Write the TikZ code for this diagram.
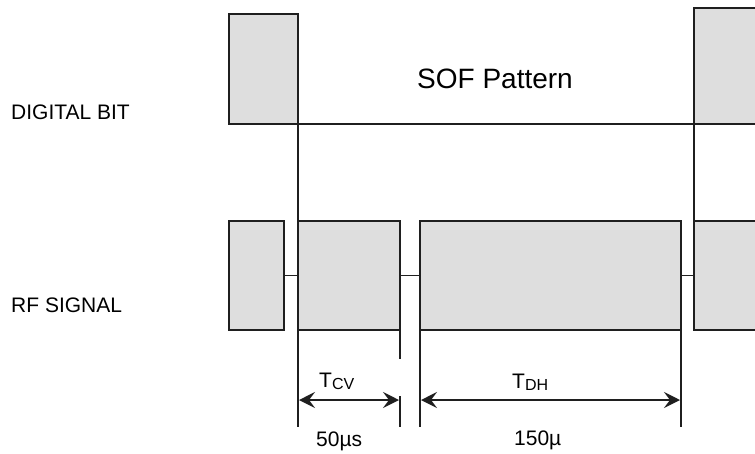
\documentclass[tikz,border=0pt]{standalone}
\usepackage{fontspec}
\setmainfont{Liberation Sans}
\usetikzlibrary{arrows.meta}
\begin{document}
\begin{tikzpicture}[x=1pt,y=-1pt,
  line join=miter,
  pulse/.style={draw=black!88, line width=1.8pt, fill=black!13, inner sep=0pt,
    outer sep=0pt, anchor=north west, minimum width=#1},
  wire/.style={draw=black!88, line width=1.8pt},
  dimline/.style={draw=black!88, line width=1.6pt,
    {Stealth[length=16pt,width=16pt,inset=6pt]}-{Stealth[length=16pt,width=16pt,inset=6pt]}},
  lbl/.style={inner sep=0pt, anchor=base west, font=\fontsize{21}{24}\selectfont},
  big/.style={inner sep=0pt, anchor=base west, font=\fontsize{28}{32}\selectfont}
]
\useasboundingbox (0,0) rectangle (755,453);
\clip (0,0) rectangle (755,453);

% digital bit waveform
\node[pulse=69pt, minimum height=110pt] (db1) at (229,14) {};
\node[pulse=76pt, minimum height=116pt] (db2) at (694,8) {};

% RF signal bursts
\node[pulse=55pt,  minimum height=109pt] (rf1) at (229,221) {};
\node[pulse=102pt, minimum height=109pt] (rf2) at (298,221) {};
\node[pulse=261pt, minimum height=109pt] (rf3) at (420,221) {};
\node[pulse=76pt,  minimum height=109pt] (rf4) at (694,221) {};

% low level of the digital bit and its edges carried down
\draw[wire] (db1.south east) -- (db2.south west);
\draw[wire] (db1.south east) -- (rf2.north west);
\draw[wire] (db2.south west) -- (rf4.north west);

% carrier-off gaps between bursts
\draw[wire] (rf1.east) -- (rf2.west);
\draw[wire] (rf2.east) -- (rf3.west);
\draw[wire] (rf3.east) -- (rf4.west);

% extension lines for the timing marks
\coordinate (e1) at (298,427);
\coordinate (g1) at (400,359);
\coordinate (g2) at (400,396);
\coordinate (e2) at (400,427);
\coordinate (e3) at (420,427);
\coordinate (e4) at (681,427);
\draw[wire] (rf2.south west) -- (e1);
\draw[wire] (rf2.south east) -- (g1);
\draw[wire] (g2) -- (e2);
\draw[wire] (rf3.south west) -- (e3);
\draw[wire] (rf3.south east) -- (e4);

% dimension arrows
\coordinate (a1) at (299,400);
\coordinate (a2) at (399,400);
\coordinate (a3) at (421,400);
\coordinate (a4) at (680,400);
\draw[dimline] (a1) -- (a2);
\draw[dimline] (a3) -- (a4);

% labels
\node[lbl] (digital) at (11,119) {DIGITAL BIT};
\node[lbl] (rfsig) at (11,312) {RF SIGNAL};
\node[big] (sof) at (417,88) {SOF Pattern};
\node[lbl] (tcv) at (319,387) {T\lower2pt\hbox{\fontsize{16}{16}\selectfont CV}};
\node[lbl] (tdh) at (512,388) {T\lower2pt\hbox{\fontsize{16}{16}\selectfont DH}};
\node[lbl] (vcv) at (316,446) {50µs};
\node[lbl] (vdh) at (514,445) {150µ};
\end{tikzpicture}
\end{document}
